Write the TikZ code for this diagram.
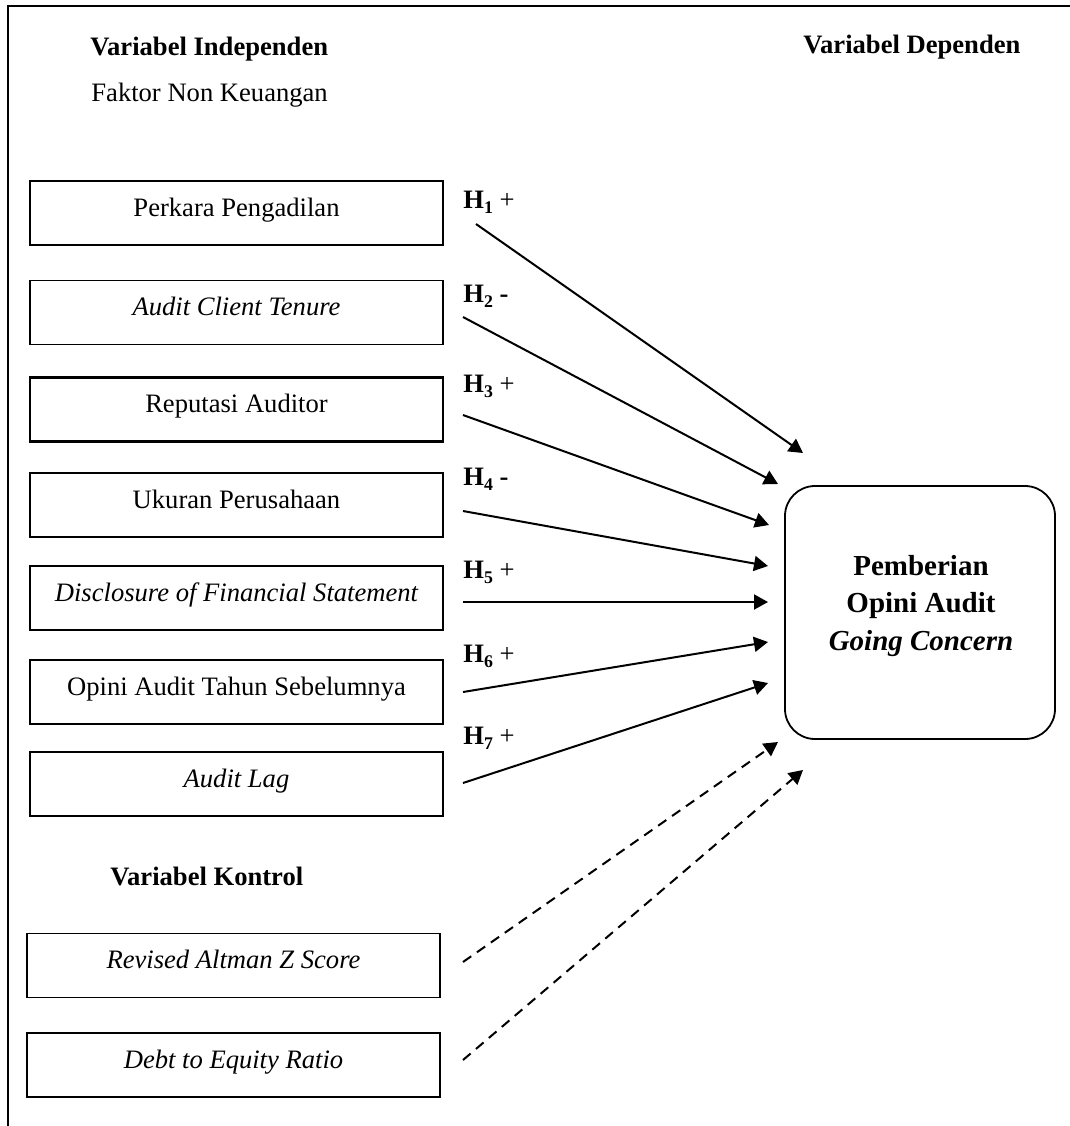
\documentclass[tikz,border=0pt]{standalone}
\usepackage{fontspec}
\setmainfont{Liberation Serif}
\usetikzlibrary{arrows.meta}
\newcommand{\hyp}[2]{\textbf{H}\raisebox{-0.45ex}{\fontsize{8.9}{10}\selectfont\bfseries #1} #2}
\begin{document}
\begin{tikzpicture}[x=0.5pt,y=-0.5pt,
  varbox/.style={draw, line width=0.85pt, minimum width=206.5pt, minimum height=32pt,
    inner sep=0pt, font=\fontsize{13.3}{16}\selectfont, text height=0.85em, text depth=0.55em},
  heading/.style={anchor=base west, inner sep=0pt, font=\fontsize{13.3}{16}\selectfont\bfseries},
  plain/.style={anchor=base west, inner sep=0pt, font=\fontsize{13.3}{16}\selectfont},
  hlabel/.style={anchor=base west, inner sep=0pt, font=\fontsize{13.3}{16}\selectfont},
  arr/.style={line width=1pt, -{Triangle[length=7pt,width=7.5pt]}},
  darr/.style={arr, dash pattern=on 5pt off 3.5pt},
  dvbox/.style={draw, line width=0.9pt, rounded corners=15pt, minimum width=135pt, minimum height=126.5pt, inner sep=0pt}]
\useasboundingbox (0,0) rectangle (1070,1126);
\fill[white] (0,0) rectangle (1070,1126);
% frame
\draw[line width=1pt] (8,1126) -- (8,6) -- (1070,6);
% headings
\node[heading] (hind) at (90,55) {Variabel Independen};
\node[plain] (hfak) at (91,101) {Faktor Non Keuangan};
\node[heading] (hdep) at (803,53) {Variabel Dependen};
\node[heading] (hkon) at (110,885) {Variabel Kontrol};
% independent variable boxes
\node[varbox] (v1) at (236.5,213) {Perkara Pengadilan};
\node[varbox] (v2) at (236.5,312.5) {\itshape Audit Client Tenure};
\node[varbox, line width=1.2pt] (v3) at (236.5,409.5) {Reputasi Auditor};
\node[varbox] (v4) at (236.5,505) {Ukuran Perusahaan};
\node[varbox] (v5) at (236.5,598) {\itshape Disclosure of Financial Statement};
\node[varbox] (v6) at (236.5,692) {Opini Audit Tahun Sebelumnya};
\node[varbox] (v7) at (236.5,784) {\itshape Audit Lag};
% control variable boxes
\node[varbox] (c1) at (233.5,965.5) {\itshape Revised Altman Z Score};
\node[varbox] (c2) at (233.5,1065) {\itshape Debt to Equity Ratio};
% dependent variable
\node[dvbox] (dv) at (920,612.5) {};
\node[align=center, inner sep=0pt, font=\fontsize{14.5}{18.75}\selectfont\bfseries] (dvtext) at (921,606)
  {Pemberian\\Opini Audit\\\textit{Going Concern}};
% hypothesis labels
\node[hlabel] (l1) at (463,208) {\hyp{1}{+}};
\node[hlabel] (l2) at (463,302) {\hyp{2}{\textbf{-}}};
\node[hlabel] (l3) at (463,392) {\hyp{3}{+}};
\node[hlabel] (l4) at (463,485) {\hyp{4}{\textbf{-}}};
\node[hlabel] (l5) at (463,578) {\hyp{5}{+}};
\node[hlabel] (l6) at (463,662) {\hyp{6}{+}};
\node[hlabel] (l7) at (463,744) {\hyp{7}{+}};
% arrow end points
\coordinate (s1) at (476,224);  \coordinate (e1) at (803,453);
\coordinate (s2) at (463,317);  \coordinate (e2) at (778,484);
\coordinate (s3) at (463,415);  \coordinate (e3) at (769,525);
\coordinate (s4) at (463,511);  \coordinate (e4) at (768,566);
\coordinate (s5) at (463,602);  \coordinate (e5) at (768,602);
\coordinate (s6) at (463,692);  \coordinate (e6) at (768,642);
\coordinate (s7) at (463,783);  \coordinate (e7) at (768,683);
\coordinate (s8) at (463,962);  \coordinate (e8) at (778,742);
\coordinate (s9) at (463,1060); \coordinate (e9) at (803,770);
% arrows
\draw[arr] (s1) -- (e1);
\draw[arr] (s2) -- (e2);
\draw[arr] (s3) -- (e3);
\draw[arr] (s4) -- (e4);
\draw[arr] (s5) -- (e5);
\draw[arr] (s6) -- (e6);
\draw[arr] (s7) -- (e7);
\draw[darr] (s8) -- (e8);
\draw[darr] (s9) -- (e9);
\end{tikzpicture}
\end{document}
